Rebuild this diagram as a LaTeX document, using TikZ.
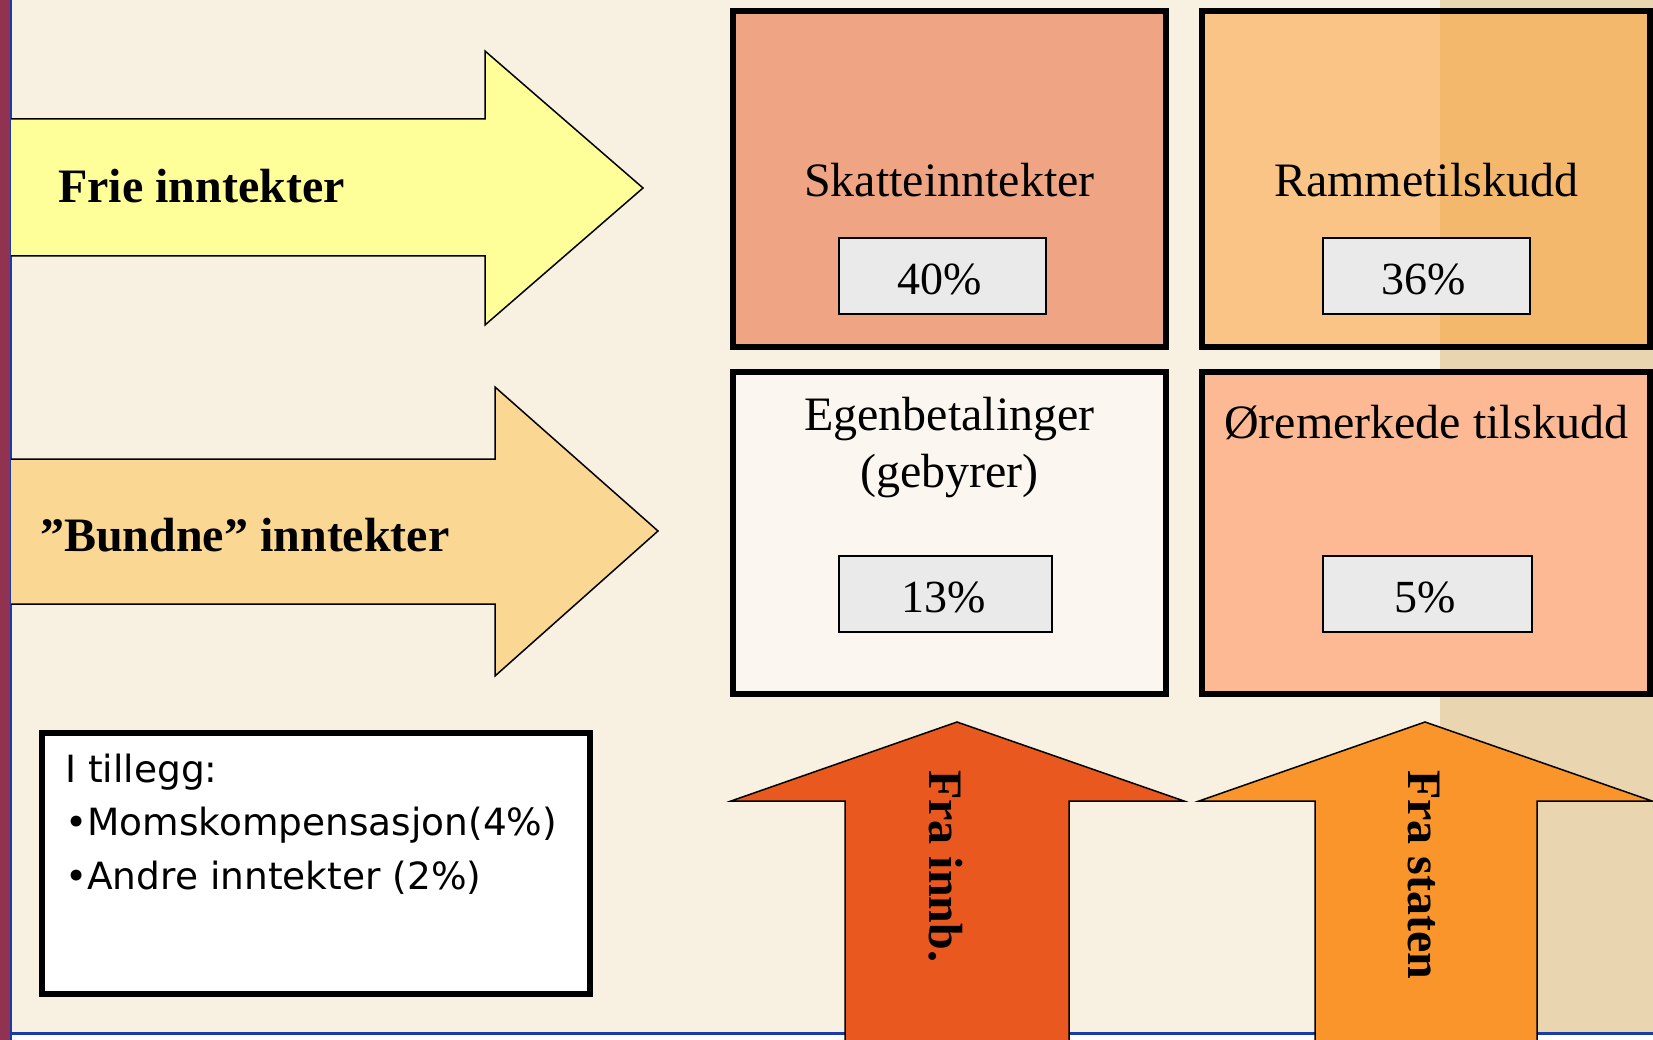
\documentclass[tikz,border=0pt]{standalone}
\usepackage{fontspec}
\setmainfont{Liberation Serif}
\newfontfamily\infofont{DejaVu Sans}
\definecolor{creambg}{HTML}{F8F0E1}
\definecolor{bandbg}{HTML}{E9D5B0}
\definecolor{maroon}{HTML}{913350}
\definecolor{blueline}{HTML}{1A3CA8}
\definecolor{yellowarr}{HTML}{FFFF99}
\definecolor{peacharr}{HTML}{FAD792}
\definecolor{skattfill}{HTML}{EFA584}
\definecolor{rammefill}{HTML}{F9C486}
\definecolor{rammedark}{HTML}{F3B86B}
\definecolor{egenfill}{HTML}{FBF7F0}
\definecolor{orefill}{HTML}{FDB993}
\definecolor{pctfill}{HTML}{EAEAEA}
\definecolor{innbarr}{HTML}{E8581F}
\definecolor{statarr}{HTML}{F9952A}
\tikzset{
  bigbox/.style={draw=black, line width=5.5pt, inner sep=0pt},
  pctbox/.style={draw=black, line width=2pt, fill=pctfill, inner sep=0pt, minimum height=76pt},
  title/.style={font=\fontsize{48}{56}\selectfont, inner sep=0pt, anchor=base},
  pct/.style={font=\fontsize{46}{54}\selectfont, inner sep=0pt, anchor=base},
  arrlabel/.style={font=\fontsize{48}{56}\selectfont\bfseries, inner sep=0pt},
  shape arrow/.style={draw=black, line width=1.5pt, line join=miter},
}
\begin{document}
\begin{tikzpicture}[x=1pt, y=-1pt]
\useasboundingbox (0,0) rectangle (1653,1040);
% background
\fill[white] (0,0) rectangle (1653,1040);
\fill[creambg] (11,0) rectangle (1653,1033);
\fill[bandbg] (1440,0) rectangle (1653,1033);
\fill[maroon] (0,0) rectangle (10,1040);
\fill[blueline] (10,0) rectangle (12,1040);
\fill[blueline] (10,1032) rectangle (1653,1034.5);

% horizontal arrows
\draw[shape arrow, fill=yellowarr] (11,119) -- (485,119) -- (485,51) -- (643,188) -- (485,325) -- (485,256) -- (11,256);
\node[arrlabel, anchor=base west] (frie) at (58,203) {Frie inntekter};
\draw[shape arrow, fill=peacharr] (11,459) -- (495,459) -- (495,387) -- (658,531) -- (495,676) -- (495,604) -- (11,604);
\node[arrlabel, anchor=base west] (bundne) at (40,551) {”Bundne” inntekter};

% top boxes
\node[bigbox, fill=skattfill, minimum width=433pt, minimum height=336pt] (skatt) at (949.5,179) {};
\fill[rammefill] (1202,11) rectangle (1650,347);
\fill[rammedark] (1440,11) rectangle (1650,347);
\node[bigbox, minimum width=448pt, minimum height=336pt] (ramme) at (1426,179) {};
\node[title] (skattlbl) at (949.5,197) {Skatteinntekter};
\node[title] (rammelbl) at (1426,197) {Rammetilskudd};
\node[pctbox, minimum width=207pt] (p40) at (942.5,276) {};
\node[pct] at (940,295) {40\%};
\node[pctbox, minimum width=207pt] (p36) at (1426.5,276) {};
\node[pct] at (1424,295) {36\%};

% lower boxes
\node[bigbox, fill=egenfill, minimum width=433pt, minimum height=322pt] (egen) at (949.5,533) {};
\node[bigbox, fill=orefill, minimum width=448pt, minimum height=322pt] (ore) at (1426,533) {};
\node[title] (egenlbl1) at (949.5,430) {Egenbetalinger};
\node[title] (egenlbl2) at (949.5,487) {(gebyrer)};
\node[title] (orelbl) at (1426,438) {Øremerkede tilskudd};
\node[pctbox, minimum width=213pt] (p13) at (945.5,594) {};
\node[pct] at (943.5,612) {13\%};
\node[pctbox, minimum width=209pt] (p5) at (1427.5,594) {};
\node[pct] at (1425.5,612) {5\%};

% vertical arrows
\draw[shape arrow, fill=innbarr] (845,1040) -- (845,801) -- (731,801) -- (957,722) -- (1184,801) -- (1069,801) -- (1069,1040);
\node[arrlabel, rotate=-90, anchor=west] (innb) at (946,770) {Fra innb.};
\draw[shape arrow, fill=statarr] (1315,1042) -- (1315,801) -- (1199,801) -- (1425,722) -- (1652,801) -- (1537,801) -- (1537,1042);
\node[arrlabel, rotate=-90, anchor=west] (staten) at (1424,770) {Fra staten};

% info box
\node[draw=black, line width=6pt, fill=white, minimum width=548pt, minimum height=261pt, inner sep=0pt] (info) at (316,863.5) {};
\node[font=\infofont\fontsize{37.5}{45}\selectfont, inner sep=0pt, anchor=base west] (l1) at (65,782) {I tillegg:};
\node[font=\infofont\fontsize{37.5}{45}\selectfont, inner sep=0pt, anchor=base west] (l2) at (65,835) {•Momskompensasjon(4\%)};
\node[font=\infofont\fontsize{37.5}{45}\selectfont, inner sep=0pt, anchor=base west] (l3) at (65,889) {•Andre inntekter (2\%)};
\end{tikzpicture}
\end{document}
